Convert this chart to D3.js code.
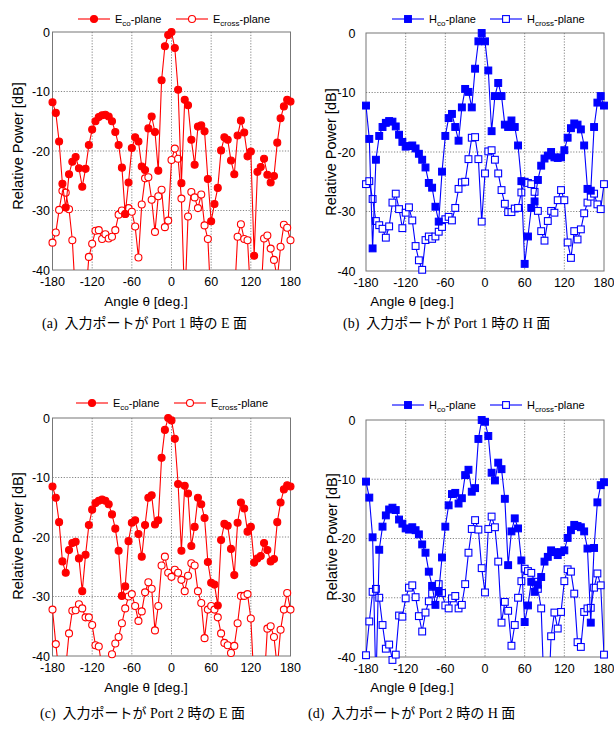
<!DOCTYPE html>
<html>
<head>
<meta charset="utf-8">
<script src="https://cdn.jsdelivr.net/npm/d3@7"></script>
<style>
  body { margin: 0; background: #fff; }
  svg { display: block; }
  .tick-label { font-family: "Liberation Sans", Arial, sans-serif; font-size: 12.5px; fill: #000; }
  .axis-title { font-family: "Liberation Sans", Arial, sans-serif; font-size: 13.5px; fill: #000; }
  .y-title { font-size: 14.5px; }
  .legend-text { font-family: "Liberation Sans", Arial, sans-serif; font-size: 11px; fill: #000; }
  .caption { font-family: "Liberation Serif", "Noto Sans CJK JP", serif; font-size: 14px; fill: #000; }
</style>
</head>
<body>
<svg id="chart" width="614" height="733"></svg>
<script>
// angle of each measured point (deg.)
var angles = [-180,-175,-170,-165,-160,-155,-150,-145,-140,-135,
  -130,-125,-120,-115,-110,-105,-100,-95,-90,-85,
  -80,-75,-70,-65,-60,-55,-50,-45,-40,-35,
  -30,-25,-20,-15,-10,-5,0,5,10,15,
  20,25,30,35,40,45,50,55,60,65,
  70,75,80,85,90,95,100,105,110,115,
  120,125,130,135,140,145,150,155,160,165,
  170,175,180];

var xTicks = [-180, -120, -60, 0, 60, 120, 180];
var yTicks = [0, -10, -20, -30, -40];

// (a) Port 1, E plane
var ecoPort1 = [-11.8,-13.6,-18.4,-25.5,-29.5,-23.9,-21.8,-21.0,-22.9,-26.0,
  -23.0,-19.0,-16.4,-15.0,-14.3,-14.0,-13.9,-14.2,-15.0,-16.8,
  -19.0,-22.8,-30.6,-25.3,-19.5,-17.7,-18.4,-22.6,-23.2,-16.2,
  -14.2,-16.8,-23.3,-8.1,-2.4,-0.5,0,-2.7,-9.7,-25.4,
  -11.4,-12.3,-18.1,-22.3,-15.9,-15.7,-16.7,-24.7,-31.8,-28.9,
  -26.2,-19.9,-17.7,-18.1,-21.6,-23.9,-17.4,-14.9,-16.9,-20.9,
  -20.1,-37.6,-23.5,-22.7,-21.3,-24.0,-25.3,-24.2,-18.6,-14.5,
  -12.5,-11.4,-11.7];
var ecrossPort1 = [-35.4,-33.7,-29.9,-26.7,-27.0,-29.8,-35.0,-45,-52,-52,
  -45,-37.8,-35.6,-33.4,-33.3,-34.8,-34.0,-34.7,-34.4,-33.3,
  -30.7,-30.0,-30.6,-29.6,-30.2,-32.7,-37.9,-29.0,-24.6,-24.4,
  -28.2,-33.6,-27.6,-26.5,-32.8,-31.7,-21.5,-19.6,-21.3,-28.0,
  -46,-31.0,-26.9,-27.8,-29.6,-27.3,-32.5,-34.8,-46,-52,
  -52,-52,-52,-52,-52,-45,-34.4,-32.3,-34.8,-35.0,
  -45,-52,-52,-45,-34.7,-34.2,-36.4,-38.3,-41.5,-36.1,
  -32.4,-32.9,-35.0];

// (b) Port 1, H plane
var hcoPort1 = [-12.2,-17.8,-36.2,-21.3,-17.3,-15.8,-15.1,-14.8,-14.9,-15.7,
  -17.1,-18.3,-19.1,-19.0,-18.9,-19.4,-20.3,-21.3,-22.6,-25.2,
  -26.0,-29.2,-31.7,-23.3,-17.3,-14.3,-13.6,-15.8,-18.1,-12.5,
  -9.4,-9.9,-12.5,-6.0,-1.4,0,-1.4,-6.3,-16.5,-10.6,
  -8.4,-10.6,-15.4,-15.8,-14.7,-15.8,-18.9,-24.9,-38.8,-34.2,
  -29.4,-28.3,-24.7,-22.3,-21.1,-20.6,-20.0,-20.9,-21.0,-20.9,
  -19.7,-17.6,-16.0,-15.2,-15.4,-16.2,-18.9,-26.2,-26.5,-15.8,
  -11.7,-10.6,-12.2];
var hcrossPort1 = [-25.4,-24.9,-27.9,-31.6,-32.3,-32.9,-34.4,-32.5,-28.5,-27.0,
  -29.6,-32.8,-30.2,-29.3,-31.5,-35.8,-38.2,-39.8,-34.8,-34.2,
  -34.6,-34.2,-33.4,-32.6,-31.3,-30.9,-31.5,-29.4,-26.2,-25.1,
  -25.0,-21.2,-17.6,-17.5,-21.2,-31.7,-23.6,-19.9,-19.7,-21.3,
  -23.6,-26.4,-28.7,-30.1,-30.1,-29.5,-29.4,-26.8,-25.0,-25.2,
  -25.4,-26.7,-29.9,-33.3,-34.9,-31.6,-29.9,-30.2,-28.1,-26.4,
  -28.1,-35.2,-37.8,-33.3,-34.7,-33.0,-30.3,-28.5,-27.5,-27.0,
  -28.8,-29.6,-25.4];

// (c) Port 2, E plane
var ecoPort2 = [-11.5,-13.4,-17.5,-24.1,-26.0,-22.2,-21.0,-20.8,-23.6,-29.1,
  -23.0,-18.0,-15.4,-14.3,-13.9,-13.7,-13.9,-14.5,-16.2,-18.6,
  -22.3,-29.9,-28.3,-20.7,-17.6,-17.2,-19.5,-23.3,-18.0,-13.4,
  -13.0,-17.9,-17.2,-6.7,-2.0,0,-0.4,-3.5,-11.1,-22.3,
  -11.4,-12.7,-21.5,-18.3,-13.4,-14.5,-16.8,-24.2,-27.7,-28.0,
  -31.5,-20.5,-17.8,-18.1,-22.0,-26.4,-17.6,-14.2,-15.2,-19.1,
  -18.3,-24.3,-23.6,-23.2,-21.0,-22.2,-24.1,-23.7,-17.5,-14.2,
  -12.0,-11.3,-11.5];
var ecrossPort2 = [-32.2,-38.0,-43,-48,-42,-36.2,-32.4,-32.3,-31.3,-32.0,
  -33.5,-33.5,-34.8,-38.2,-38.4,-42,-43,-41,-39.7,-37.9,
  -36.8,-34.5,-32.0,-30.0,-29.6,-31.6,-34.1,-32.5,-29.3,-27.6,
  -28.7,-35.7,-31.6,-24.8,-23.3,-26.0,-26.7,-25.5,-26.0,-27.2,
  -29.1,-26.5,-24.4,-24.8,-29.1,-31.1,-37.0,-32.2,-31.6,-32.2,
  -33.5,-36.2,-37.8,-38.2,-39.5,-38.3,-34.5,-29.9,-29.9,-29.6,
  -33.7,-45,-50,-50,-45,-35.4,-35.0,-36.8,-42,-35.6,
  -32.2,-29.4,-32.2];

// (d) Port 2, H plane
var hcoPort2 = [-10.4,-13.1,-19.8,-45,-21.9,-18.0,-16.1,-15.1,-14.8,-15.2,
  -16.8,-17.5,-18.3,-18.5,-18.1,-18.6,-19.3,-21.0,-22.4,-25.6,
  -28.0,-31.2,-29.0,-23.2,-18.0,-14.4,-12.5,-12.3,-14.1,-13.2,
  -9.3,-8.4,-12.1,-11.5,-3.2,0,-0.3,-2.7,-8.9,-10.2,
  -7.2,-8.3,-13.3,-24.5,-18.8,-16.6,-18.3,-23.7,-34.1,-31.3,
  -27.3,-29.0,-27.8,-26.5,-23.9,-23.1,-22.0,-22.3,-22.8,-22.3,
  -22.0,-19.9,-18.6,-17.7,-17.9,-18.1,-18.8,-21.7,-34.2,-21.6,
  -13.9,-11.0,-10.5];
var hcrossPort2 = [-39.7,-34.0,-29.0,-28.5,-30.0,-34.6,-38.6,-37.9,-40.5,-39.6,
  -33.0,-33.2,-30.1,-28.3,-27.9,-29.9,-33.1,-35.7,-32.5,-30.6,
  -29.3,-28.0,-27.7,-29.2,-31.3,-31.8,-30.1,-29.7,-31.8,-31.2,
  -27.7,-22.4,-18.4,-16.9,-18.5,-25.0,-29.1,-18.4,-16.3,-18.1,
  -23.9,-34.2,-30.7,-32.2,-38.1,-34.6,-30.0,-27.2,-25.1,-25.5,
  -25.8,-27.3,-28.5,-31.8,-48,-50,-36.5,-32.5,-35.2,-32.4,
  -27.2,-25.2,-25.6,-29.3,-37.5,-38.3,-32.4,-31.8,-31.7,-28.3,
  -25.9,-27.9,-39.6];

var svg = d3.select("#chart");

var panels = [
  { id: "a", x0: 52.5, x1: 290.5, y0: 32, y1: 270, labelGap: 2.5, color: "#ff0000", shape: "circle",
    plane: "E", co: ecoPort1, cross: ecrossPort1, legendY: 19, legendX: 78,
    yTitleX: 17.5, yTitleY: 146, xTitleX: 146, xTitleY: 306,
    caption: "(a)  入力ポートが Port 1 時の E 面", capX: 42, capY: 328 },
  { id: "b", x0: 366, x1: 604, y0: 33, y1: 271, labelGap: 10.5, color: "#0000ff", shape: "square",
    plane: "H", co: hcoPort1, cross: hcrossPort1, legendY: 19, legendX: 392,
    yTitleX: 331, yTitleY: 152, xTitleX: 412, xTitleY: 306,
    caption: "(b)  入力ポートが Port 1 時の H 面", capX: 343, capY: 328 },
  { id: "c", x0: 52.5, x1: 290.5, y0: 418, y1: 656, labelGap: 2.5, color: "#ff0000", shape: "circle",
    plane: "E", co: ecoPort2, cross: ecrossPort2, legendY: 403, legendX: 76,
    yTitleX: 17.5, yTitleY: 536, xTitleX: 146, xTitleY: 692,
    caption: "(c)  入力ポートが Port 2 時の E 面", capX: 40, capY: 718 },
  { id: "d", x0: 366, x1: 604, y0: 420, y1: 657, labelGap: 10.5, color: "#0000ff", shape: "square",
    plane: "H", co: hcoPort2, cross: hcrossPort2, legendY: 405, legendX: 392,
    yTitleX: 332, yTitleY: 537, xTitleX: 412, xTitleY: 692,
    caption: "(d)  入力ポートが Port 2 時の H 面", capX: 308, capY: 718 }
];

function drawMarker(g, shape, cx, cy, color, filled) {
  if (shape == "circle") {
    g.append("circle")
      .attr("cx", cx).attr("cy", cy).attr("r", 3.5)
      .attr("fill", filled ? color : "#fff")
      .attr("stroke", color).attr("stroke-width", 1.1);
  } else {
    g.append("rect")
      .attr("x", cx - 3.4).attr("y", cy - 3.4)
      .attr("width", 6.8).attr("height", 6.8)
      .attr("fill", filled ? color : "#fff")
      .attr("stroke", color).attr("stroke-width", 1.1);
  }
}

function drawPanel(p) {
  var x = d3.scaleLinear().domain([-180, 180]).range([p.x0, p.x1]);
  var y = d3.scaleLinear().domain([0, -40]).range([p.y0, p.y1]);
  var g = svg.append("g").attr("class", "panel-" + p.id);

  g.append("clipPath").attr("id", "clip-" + p.id)
    .append("rect")
      .attr("x", p.x0).attr("y", p.y0)
      .attr("width", p.x1 - p.x0).attr("height", p.y1 - p.y0);

  // grid
  g.selectAll(".vgrid")
      .data(xTicks.slice(1, -1))
      .enter().append("line")
      .attr("x1", function(d) { return x(d); })
      .attr("x2", function(d) { return x(d); })
      .attr("y1", p.y0).attr("y2", p.y1)
      .attr("stroke", "#666").attr("stroke-width", 0.8)
      .attr("stroke-dasharray", "1.2,1.6");
  g.selectAll(".hgrid")
      .data(yTicks.slice(1, -1))
      .enter().append("line")
      .attr("y1", function(d) { return y(d); })
      .attr("y2", function(d) { return y(d); })
      .attr("x1", p.x0).attr("x2", p.x1)
      .attr("stroke", "#666").attr("stroke-width", 0.8)
      .attr("stroke-dasharray", "1.2,1.6");

  // frame
  g.append("rect")
      .attr("x", p.x0).attr("y", p.y0)
      .attr("width", p.x1 - p.x0).attr("height", p.y1 - p.y0)
      .attr("fill", "none").attr("stroke", "#777").attr("stroke-width", 1);

  // tick labels
  g.selectAll(".xlab")
      .data(xTicks)
      .enter().append("text")
      .attr("class", "tick-label")
      .attr("x", function(d) { return x(d); })
      .attr("y", p.y1 + 16)
      .attr("text-anchor", "middle")
      .text(function(d) { return d; });
  g.selectAll(".ylab")
      .data(yTicks)
      .enter().append("text")
      .attr("class", "tick-label")
      .attr("x", p.x0 - p.labelGap)
      .attr("y", function(d) { return y(d); })
      .attr("dy", "0.36em")
      .attr("text-anchor", "end")
      .text(function(d) { return d; });

  // axis titles
  g.append("text")
      .attr("class", "axis-title y-title")
      .attr("transform", "translate(" + p.yTitleX + "," + p.yTitleY + ") rotate(-90)")
      .attr("dy", "0.36em")
      .attr("text-anchor", "middle")
      .text("Relative Power [dB]");
  g.append("text")
      .attr("class", "axis-title")
      .attr("x", p.xTitleX).attr("y", p.xTitleY)
      .attr("text-anchor", "middle")
      .text("Angle θ [deg.]");

  // series
  var line = d3.line()
      .x(function(d, i) { return x(angles[i]); })
      .y(function(d) { return y(d); });

  [p.cross, p.co].forEach(function(series, k) {
    var filled = (k == 1);
    g.append("path")
        .datum(series)
        .attr("clip-path", "url(#clip-" + p.id + ")")
        .attr("fill", "none")
        .attr("stroke", p.color)
        .attr("stroke-width", 1.1)
        .attr("d", line);
    var mg = g.append("g");
    series.forEach(function(v, i) {
      if (v >= -40.6) drawMarker(mg, p.shape, x(angles[i]), y(v), p.color, filled);
    });
  });

  // legend
  var names = [["co", true], ["cross", false]];
  var lx = p.legendX;
  names.forEach(function(n, k) {
    var sx = lx + k * 98;
    g.append("line")
        .attr("x1", sx).attr("x2", sx + 32)
        .attr("y1", p.legendY).attr("y2", p.legendY)
        .attr("stroke", p.color).attr("stroke-width", 1.1);
    drawMarker(g, p.shape, sx + 16, p.legendY, p.color, n[1]);
    var t = g.append("text")
        .attr("class", "legend-text")
        .attr("x", sx + 37).attr("y", p.legendY + 4);
    t.append("tspan").text(p.plane);
    t.append("tspan").attr("font-size", "8px").attr("dy", 3).text(n[0]);
    t.append("tspan").attr("dy", -3).text("-plane");
  });

  // caption
  svg.append("text")
      .attr("class", "caption")
      .attr("x", p.capX).attr("y", p.capY)
      .attr("xml:space", "preserve")
      .style("white-space", "pre")
      .text(p.caption);
}

panels.forEach(drawPanel);
</script>
</body>
</html>
